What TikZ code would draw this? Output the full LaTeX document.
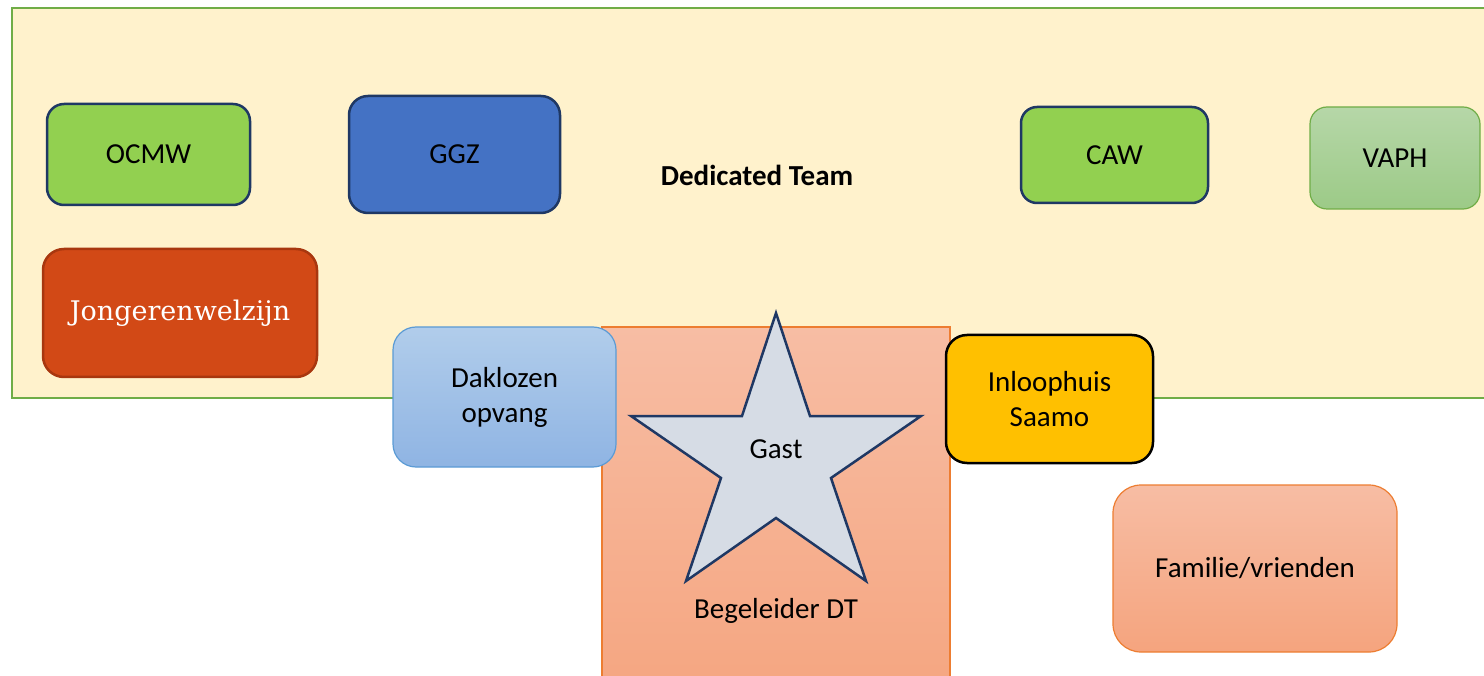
\documentclass[tikz,border=0pt]{standalone}
\usepackage{fontspec}
\setmainfont{Carlito}
\newfontfamily\slabfont{DejaVu Serif}
\definecolor{teambg}{HTML}{FFF2CC}
\definecolor{teamline}{HTML}{70AD47}
\definecolor{navy}{HTML}{1F3864}
\definecolor{lime}{HTML}{92D050}
\definecolor{ggzblue}{HTML}{4472C4}
\definecolor{vaphtop}{HTML}{B6D7A8}
\definecolor{vaphbot}{HTML}{9CCA87}
\definecolor{jwred}{HTML}{D24916}
\definecolor{jwline}{HTML}{A8370F}
\definecolor{daktop}{HTML}{B1CDEB}
\definecolor{dakbot}{HTML}{8FB4E3}
\definecolor{dakline}{HTML}{5B9BD5}
\definecolor{peachtop}{HTML}{F7BDA4}
\definecolor{peachbot}{HTML}{F5A47E}
\definecolor{peachline}{HTML}{ED7D31}
\definecolor{stargrey}{HTML}{D6DCE5}
\definecolor{saamo}{HTML}{FFC000}

\begin{document}
\begin{tikzpicture}[x=1pt, y=-1pt,
	txt/.style={font=\fontsize{29}{35}\selectfont, align=center},
	box/.style={txt, draw, inner sep=0pt}]
	%%%%% START %%%%%
	\clip (0, 0) rectangle (1484, 676);
	
	% dedicated team area
	\draw[fill=teambg, draw=teamline, line width=2.5pt] (12, 8) rectangle (1500, 398);
	\node[txt, font=\fontsize{29}{35}\selectfont\bfseries] (team) at (757, 175) {Dedicated Team};
	
	\node[box, fill=lime, draw=navy, line width=2.5pt, rounded corners=17, minimum width=203, minimum height=101] (ocmw) at (148.5, 154.5) {OCMW};
	\node[box, fill=ggzblue, draw=navy, line width=2.5pt, rounded corners=19, minimum width=211, minimum height=117] (ggz) at (454.5, 154.5) {GGZ};
	\node[box, fill=lime, draw=navy, line width=2.5pt, rounded corners=16, minimum width=187, minimum height=96] (caw) at (1114.5, 155) {CAW};
	\node[box, top color=vaphtop, bottom color=vaphbot, draw=teamline, line width=1.2pt, rounded corners=17, minimum width=170, minimum height=102] (vaph) at (1395, 158) {VAPH};
	\node[box, fill=jwred, draw=jwline, line width=2.5pt, rounded corners=21, minimum width=274, minimum height=128, text=white, font=\fontsize{27}{32}\slabfont] (jongeren) at (180, 313) {Jongerenwelzijn};
	
	% begeleider en gast
	\node[box, top color=peachtop, bottom color=peachbot, draw=peachline, line width=1.2pt, minimum width=348, minimum height=393] (begeleider) at (776, 523.5) {};
	\node[txt] (begeleidertxt) at (776, 611) {Begeleider DT};
	\node[box, top color=daktop, bottom color=dakbot, draw=dakline, line width=1.2pt, rounded corners=23, minimum width=223, minimum height=140] (daklozen) at (504.5, 397) {Daklozen\\opvang};
	
	\draw[fill=stargrey, draw=navy, line width=2.5pt, line join=miter]
		(776, 313) -- (810, 416) -- (921, 416) -- (831, 478) -- (866, 581) -- (776, 518)
		-- (686, 581) -- (721, 478) -- (631, 416) -- (742, 416) -- cycle;
	\node[txt] (gast) at (776, 449) {Gast};
	
	\node[box, fill=saamo, draw=black, line width=2.5pt, rounded corners=21, minimum width=207, minimum height=128] (inloophuis) at (1049.5, 399) {Inloophuis\\Saamo};
	\node[box, top color=peachtop, bottom color=peachbot, draw=peachline, line width=1.2pt, rounded corners=28, minimum width=284, minimum height=167] (familie) at (1255, 568.5) {Familie/vrienden};
	%%%%% END %%%%%
\end{tikzpicture}
\end{document}
